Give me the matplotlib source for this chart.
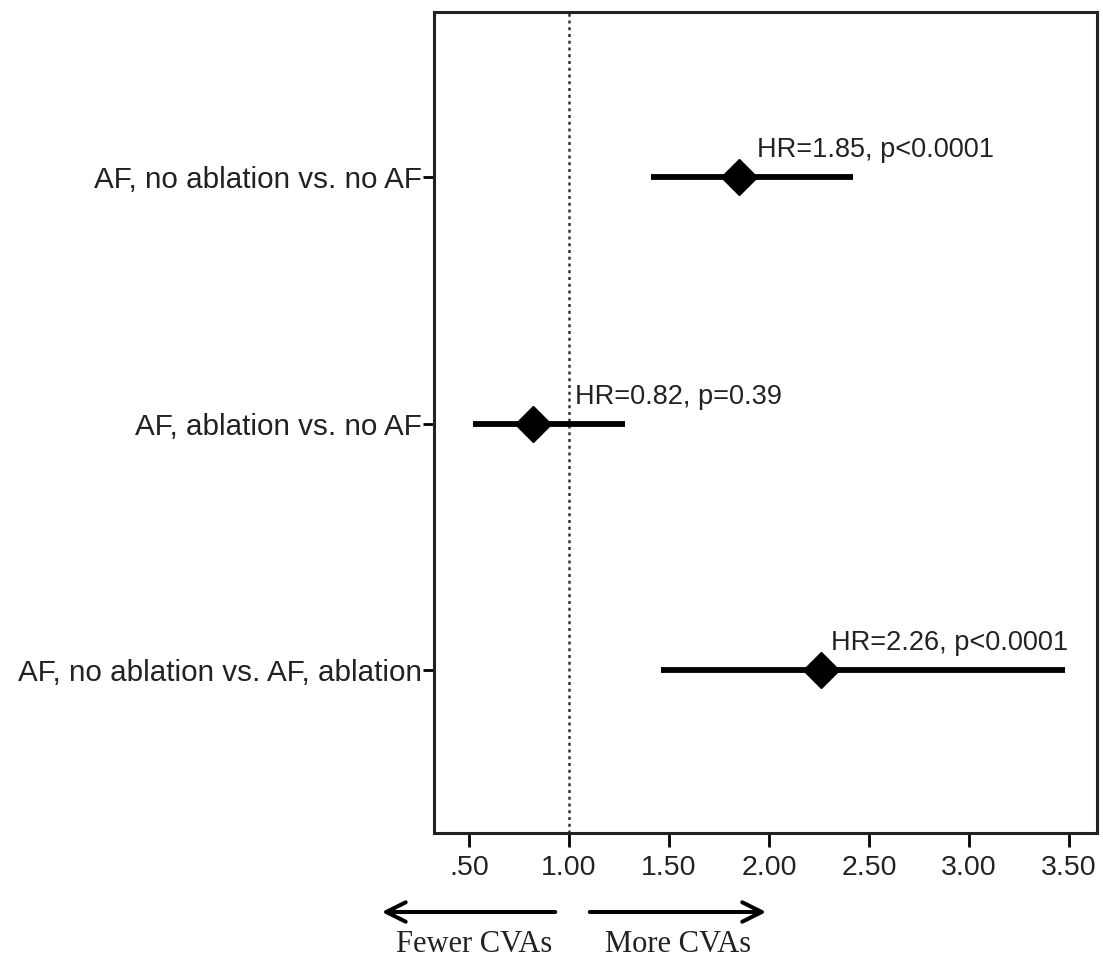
import numpy as np
import matplotlib.pyplot as plt

# forest plot data
labels = ["AF, no ablation vs. no AF",
          "AF, ablation vs. no AF",
          "AF, no ablation vs. AF, ablation"]
hr = [1.85, 0.82, 2.26]
ci_low = [1.41, 0.52, 1.46]
ci_high = [2.42, 1.28, 3.48]
notes = ["HR=1.85, p<0.0001", "HR=0.82, p=0.39", "HR=2.26, p<0.0001"]
note_x = [1.94, 1.03, 2.31]
xticks = [0.5, 1.0, 1.5, 2.0, 2.5, 3.0, 3.5]
xticklabels = [".50", "1.00", "1.50", "2.00", "2.50", "3.00", "3.50"]

plt.rcParams['font.family'] = ['Liberation Sans', 'DejaVu Sans']

fig = plt.figure(figsize=(11.03, 9.6), dpi=100)
ax = fig.add_axes([0.3935, 0.1323, 0.601, 0.8552])

rows = np.arange(1, len(labels) + 1)
for y, h, lo, hi, note, nx in zip(rows, hr, ci_low, ci_high, notes, note_x):
    ax.plot([lo, hi], [y, y], color='black', lw=4.2, solid_capstyle='butt', zorder=2)
    ax.plot(h, y, marker='D', ms=18.5, color='black', zorder=3)
    ax.text(nx, y - 0.11, note, fontsize=19.5, va='center', ha='left', color='#222222')

ax.axvline(1.0, color='#333333', lw=1.8, ls=(0, (1.2, 1.5)), zorder=1)

ax.set_xlim(0.325, 3.64)
ax.set_ylim(3.66, 0.33)
ax.set_xticks(xticks)
ax.set_xticklabels(xticklabels, fontsize=20.5, color='#222222')
ax.set_yticks(rows)
ax.set_yticklabels(labels, fontsize=21.3, color='#222222')
ax.tick_params(axis='x', length=10, width=2, pad=6)
ax.tick_params(axis='y', length=8, width=2, pad=0.5)
for s in ax.spines.values():
    s.set_linewidth(2.2)
    s.set_color('#222222')

# direction arrows under the axis
arrow_style = dict(arrowstyle='->,head_length=1.4,head_width=0.7', lw=2.9, color='black')
ax.annotate('', xy=(379 / 1103, 48 / 960), xytext=(558 / 1103, 48 / 960),
            xycoords='figure fraction', textcoords='figure fraction', arrowprops=arrow_style)
ax.annotate('', xy=(769 / 1103, 48 / 960), xytext=(587 / 1103, 48 / 960),
            xycoords='figure fraction', textcoords='figure fraction', arrowprops=arrow_style)
fig.text(474 / 1103, 16 / 960, "Fewer CVAs", fontsize=22, ha='center', va='center',
         color='#222222', family=['Liberation Serif', 'DejaVu Serif'])
fig.text(678 / 1103, 16 / 960, "More CVAs", fontsize=22, ha='center', va='center',
         color='#222222', family=['Liberation Serif', 'DejaVu Serif'])

fig.savefig('out.png', dpi=100)
